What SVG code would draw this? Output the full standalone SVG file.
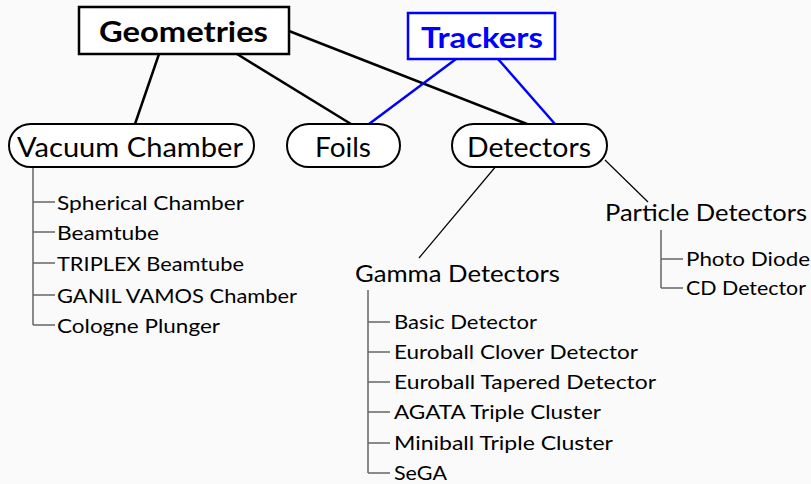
<svg xmlns="http://www.w3.org/2000/svg" width="811" height="484" viewBox="0 0 811 484">
<style>
text{font-family:Lato,"Open Sans","Liberation Sans",sans-serif;fill:#000}
.box{fill:#fff;stroke:#000;stroke-width:2.5}
.bbox{fill:#fff;stroke:#0000ff;stroke-width:2.5}
.pill{fill:#fff;stroke:#000;stroke-width:2}
.title{font-size:29px;font-weight:bold}
.main{font-size:27px}
.sub{font-size:23px}
.item{font-size:19px}
.thick{stroke:#000;stroke-width:2.5;fill:none}
.blue{stroke:#0000ff;stroke-width:2.5;fill:none}
.thin{stroke:#000;stroke-width:1.2;fill:none}
.tree{stroke:#666;stroke-width:1.5;fill:none}
</style>
<rect width="811" height="484" fill="#fafafa"/>
<g id="connectors">
<line class="thick" x1="159" y1="54" x2="135" y2="124"/>
<line class="thick" x1="237" y1="54" x2="351" y2="124"/>
<line class="thick" x1="289" y1="31" x2="527" y2="124"/>
<line class="blue" x1="456" y1="59" x2="369" y2="124"/>
<line class="blue" x1="498" y1="59" x2="555" y2="124"/>
<line class="thin" x1="497" y1="165" x2="419" y2="258"/>
<line class="thin" x1="605" y1="160" x2="648" y2="202"/>
<path class="tree" d="M33 167V325M33 202H55M33 232H55M33 263H55M33 295H55M33 325H55"/>
<path class="tree" d="M368 290V473M368 322H390M368 352H390M368 382H390M368 412H390M368 443H390M368 473H390"/>
<path class="tree" d="M661 230V288M661 259H683M661 288H683"/>
</g>
<g id="geometries">
<rect class="box" x="79" y="7" width="210" height="47"/>
<text class="title" x="99" y="42" textLength="169" lengthAdjust="spacingAndGlyphs">Geometries</text>
</g>
<g id="trackers">
<rect class="bbox" x="408" y="13" width="147" height="46"/>
<text class="title" x="421" y="48" textLength="122" lengthAdjust="spacingAndGlyphs" style="fill:#0000ff">Trackers</text>
</g>
<g id="vacuum-chamber">
<rect class="pill" x="9" y="124" width="245" height="43" rx="21.5"/>
<text class="main" x="17" y="157" textLength="226" lengthAdjust="spacingAndGlyphs">Vacuum Chamber</text>
</g>
<g id="foils">
<rect class="pill" x="287" y="124" width="113" height="43" rx="21.5"/>
<text class="main" x="315" y="157" textLength="56" lengthAdjust="spacingAndGlyphs">Foils</text>
</g>
<g id="detectors">
<rect class="pill" x="452" y="124" width="155" height="43" rx="21.5"/>
<text class="main" x="467" y="157" textLength="124" lengthAdjust="spacingAndGlyphs">Detectors</text>
</g>
<g id="vacuum-list">
<text class="item" x="57" y="210" textLength="187" lengthAdjust="spacingAndGlyphs">Spherical Chamber</text>
<text class="item" x="57" y="240" textLength="102" lengthAdjust="spacingAndGlyphs">Beamtube</text>
<text class="item" x="57" y="271" textLength="187" lengthAdjust="spacingAndGlyphs">TRIPLEX Beamtube</text>
<text class="item" x="57" y="303" textLength="240" lengthAdjust="spacingAndGlyphs">GANIL VAMOS Chamber</text>
<text class="item" x="57" y="333" textLength="163" lengthAdjust="spacingAndGlyphs">Cologne Plunger</text>
</g>
<g id="gamma-detectors">
<text class="sub" x="355" y="282" textLength="205" lengthAdjust="spacingAndGlyphs">Gamma Detectors</text>
<text class="item" x="394" y="329" textLength="143" lengthAdjust="spacingAndGlyphs">Basic Detector</text>
<text class="item" x="394" y="359" textLength="244" lengthAdjust="spacingAndGlyphs">Euroball Clover Detector</text>
<text class="item" x="394" y="389" textLength="262" lengthAdjust="spacingAndGlyphs">Euroball Tapered Detector</text>
<text class="item" x="394" y="419" textLength="207" lengthAdjust="spacingAndGlyphs">AGATA Triple Cluster</text>
<text class="item" x="394" y="450" textLength="219" lengthAdjust="spacingAndGlyphs">Miniball Triple Cluster</text>
<text class="item" x="394" y="480" textLength="53" lengthAdjust="spacingAndGlyphs">SeGA</text>
</g>
<g id="particle-detectors">
<text class="sub" x="605" y="221" textLength="202" lengthAdjust="spacingAndGlyphs">Particle Detectors</text>
<text class="item" x="686" y="266" textLength="124" lengthAdjust="spacingAndGlyphs">Photo Diode</text>
<text class="item" x="686" y="295" textLength="120" lengthAdjust="spacingAndGlyphs">CD Detector</text>
</g>
</svg>
